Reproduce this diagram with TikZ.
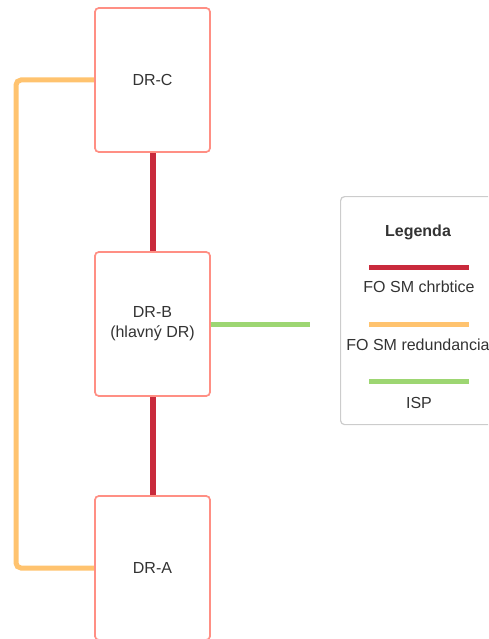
\documentclass[tikz,border=0pt]{standalone}
\usepackage{fontspec}
\setmainfont{Liberation Sans}
\definecolor{boxline}{HTML}{FF8F84}
\definecolor{redline}{HTML}{C92A3C}
\definecolor{orangeline}{HTML}{FFC36F}
\definecolor{greenline}{HTML}{9DD672}
\definecolor{legline}{HTML}{CCCCCC}
\definecolor{txt}{HTML}{333333}
\begin{document}
\begin{tikzpicture}[x=1pt,y=-1pt,
  drbox/.style={draw=boxline,line width=1.6pt,rounded corners=4pt,fill=white,minimum width=115pt,minimum height=144pt,inner sep=0pt,align=center,text=txt,font=\fontsize{16}{20}\selectfont},
  redl/.style={draw=redline,line width=6pt},
  orl/.style={draw=orangeline,line width=5pt,rounded corners=5pt},
  grl/.style={draw=greenline,line width=5pt},
  legt/.style={text=txt,font=\fontsize{16}{20}\selectfont,inner sep=0pt}]
\useasboundingbox (0,0) rectangle (488,639);
\begin{scope}
\clip (0,0) rectangle (488,639);
\node[drbox] (C) at (152.5,80) {DR-C};
\node[drbox] (B) at (152.5,324) {DR-B\\(hlavný DR)};
\node[drbox] (A) at (152.5,568) {DR-A};
\coordinate (gend) at (310,324);
\coordinate (ocorner) at (16,80);
\draw[redl] (C.south) -- (B.north);
\draw[redl] (B.south) -- (A.north);
\draw[orl] (C.west) -- (ocorner) -- (ocorner |- A.west) -- (A.west);
\draw[grl] (B.east) -- (gend);
% redraw boxes over line ends
\node[drbox] at (C) {DR-C};
\node[drbox] at (B) {DR-B\\(hlavný DR)};
\node[drbox] at (A) {DR-A};
% legend
\node[draw=legline,line width=1.2pt,rounded corners=4pt,minimum width=160pt,minimum height=228pt,anchor=north west] (L) at (340,196) {};
\node[legt,font=\fontsize{16}{20}\selectfont\bfseries] (Lt) at (418,232) {Legenda};
\coordinate (r1) at (369,267); \coordinate (r2) at (469,267);
\draw[draw=redline,line width=5pt] (r1) -- (r2);
\node[legt] (t1) at (419,287) {FO SM chrbtice};
\coordinate (o1) at (369,324); \coordinate (o2) at (469,324);
\draw[draw=orangeline,line width=5pt] (o1) -- (o2);
\node[legt] (t2) at (418,345) {FO SM redundancia};
\coordinate (g1) at (369,381); \coordinate (g2) at (469,381);
\draw[draw=greenline,line width=5pt] (g1) -- (g2);
\node[legt] (t3) at (419,403) {ISP};
\end{scope}
\end{tikzpicture}
\end{document}
